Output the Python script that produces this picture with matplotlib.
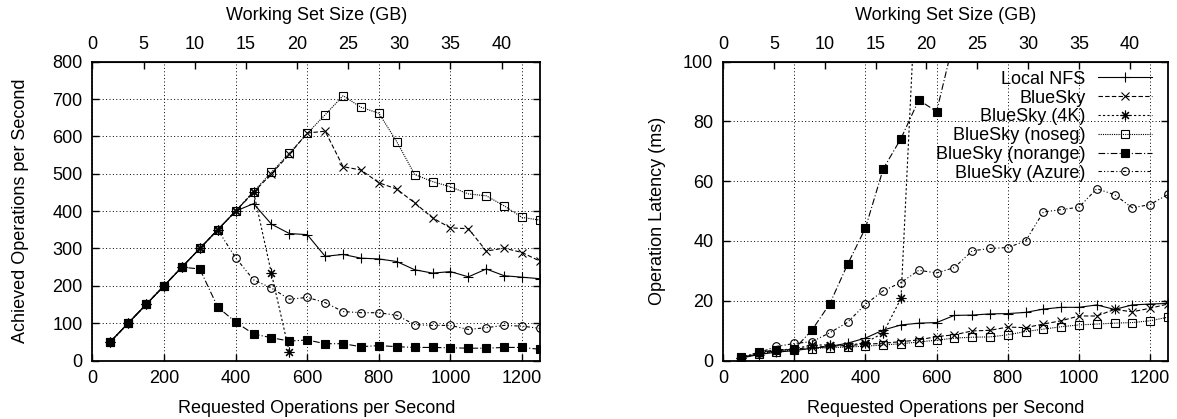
import matplotlib
matplotlib.use('Agg')
import matplotlib.pyplot as plt
import numpy as np

plt.rcParams['font.family'] = ['Liberation Sans', 'DejaVu Sans']

# requested operations per second
req = [50, 100, 150, 200, 250, 300, 350, 400, 450, 500, 550, 600, 650,
       700, 750, 800, 850, 900, 950, 1000, 1050, 1100, 1150, 1200, 1250]
req_4k = [50, 100, 150, 200, 250, 300, 350, 400, 450, 500, 550]
req_norange_lat = [50, 100, 150, 200, 250, 300, 350, 400, 450, 500, 550, 600, 650]

# achieved operations per second (left)
ach_nfs = [50, 100, 150, 200, 250, 300, 350, 400, 420, 365, 340, 337, 279,
           284, 274, 272, 265, 243, 234, 238, 224, 245, 227, 223, 219]
ach_bluesky = [50, 100, 150, 200, 250, 300, 350, 400, 450, 500, 552, 609, 614,
               519, 510, 476, 459, 422, 382, 355, 353, 293, 301, 289, 266]
ach_4k = [50, 100, 150, 200, 250, 300, 350, 400, 452, 233, 22]
ach_noseg = [50, 100, 150, 200, 250, 300, 350, 400, 452, 504, 555, 608, 658,
             709, 678, 662, 586, 498, 479, 465, 446, 441, 414, 383, 376]
ach_norange = [50, 100, 150, 200, 250, 245, 143, 103, 71, 61, 52, 55, 45,
               45, 37, 40, 37, 35, 35, 34, 33, 33, 35, 35, 30]
ach_azure = [50, 100, 150, 200, 250, 300, 350, 275, 216, 194, 164, 169, 155,
             131, 128, 128, 121, 96, 94, 94, 83, 88, 94, 92, 86]

# operation latency in ms (right)
lat_nfs = [0.8, 2.0, 2.8, 3.3, 4.1, 4.7, 5.8, 7.5, 10.2, 11.9, 12.5, 12.7, 15.1,
           15.2, 15.6, 15.7, 16.1, 17.2, 17.8, 17.8, 18.6, 17.1, 18.6, 18.9, 19.1]
lat_bluesky = [0.9, 2.4, 3.3, 3.8, 4.4, 4.8, 5.0, 5.4, 5.8, 6.3, 6.9, 8.0, 8.6,
               9.9, 10.1, 11.2, 11.0, 12.2, 13.3, 14.9, 14.9, 17.1, 16.3, 17.5, 18.9]
lat_4k = [0.9, 2.4, 3.3, 3.9, 5.2, 5.2, 5.0, 6.0, 9.2, 20.8, 145]
lat_noseg = [0.8, 2.2, 3.0, 3.6, 4.0, 4.3, 4.5, 4.8, 5.2, 5.6, 6.2, 6.8, 7.5,
             7.8, 7.9, 8.6, 9.7, 10.5, 11.3, 11.9, 12.2, 12.5, 12.7, 13.3, 14.5]
lat_norange = [1.1, 2.7, 3.6, 3.8, 10.2, 19.0, 32.2, 44.3, 64.1, 74.3, 87.2, 83.3, 108]
lat_azure = [1.0, 2.6, 4.7, 5.7, 6.3, 9.3, 12.8, 18.8, 23.3, 26.1, 30.2, 29.3, 31.1,
             36.7, 37.5, 37.8, 40.0, 49.7, 50.5, 51.3, 57.5, 55.5, 51.1, 52.2, 55.6]

labels = ['Local NFS', 'BlueSky', 'BlueSky (4K)', 'BlueSky (noseg)',
          'BlueSky (norange)', 'BlueSky (Azure)']

gb_per_op = 0.035
fs = 13

styles = [
    dict(linestyle='-', marker='+', ms=7, mfc='none'),
    dict(linestyle=(0, (4, 2)), marker='x', ms=6, mfc='none'),
    dict(linestyle=(0, (2, 2)), marker=(8, 2, 0), ms=7, mfc='none'),
    dict(linestyle=(0, (1, 1)), marker='s', ms=5.5, mfc='none'),
    dict(linestyle=(0, (6, 2, 1, 2)), marker='s', ms=5.5, mfc='black'),
    dict(linestyle=(0, (3, 2, 1, 2, 1, 2)), marker='o', ms=5.5, mfc='none'),
]

fig = plt.figure(figsize=(11.77, 4.19), dpi=100)
ax1 = fig.add_axes([0.0785, 0.1396, 0.3803, 0.7131])
ax2 = fig.add_axes([0.6143, 0.1396, 0.3780, 0.7131])

left_data = [(req, ach_nfs), (req, ach_bluesky), (req_4k, ach_4k),
             (req, ach_noseg), (req, ach_norange), (req, ach_azure)]
right_data = [(req, lat_nfs), (req, lat_bluesky), (req_4k, lat_4k),
              (req, lat_noseg), (req_norange_lat, lat_norange), (req, lat_azure)]

for i in range(6):
    ax1.plot(left_data[i][0], left_data[i][1], color='black', lw=0.8,
             mec='black', mew=0.8, label=labels[i], **styles[i])
    ax2.plot(right_data[i][0], right_data[i][1], color='black', lw=0.8,
             mec='black', mew=0.8, label=labels[i], **styles[i])

for ax in [ax1, ax2]:
    ax.set_xlim(0, 1250)
    ax.set_xticks(np.arange(0, 1201, 200))
    ax.grid(True, color='black', linestyle=(0, (1, 2.5)), linewidth=0.7)
    ax.tick_params(direction='in', right=True, top=False, labelsize=fs,
                   length=5, width=1, pad=7)
    for s in ax.spines.values():
        s.set_linewidth(1.3)
    ax.set_xlabel('Requested Operations per Second', fontsize=fs, labelpad=9)
    top = ax.secondary_xaxis('top', functions=(lambda x: x * gb_per_op,
                                               lambda g: g / gb_per_op))
    top.set_xticks(np.arange(0, 41, 5))
    top.tick_params(direction='in', labelsize=fs, length=5, width=1, pad=6)
    top.set_xlabel('Working Set Size (GB)', fontsize=fs, labelpad=12)

ax1.set_ylim(0, 800)
ax1.set_yticks(np.arange(0, 801, 100))
ax1.set_ylabel('Achieved Operations per Second', fontsize=fs, labelpad=17)

ax2.set_ylim(0, 100)
ax2.set_yticks(np.arange(0, 101, 20))
ax2.set_ylabel('Operation Latency (ms)', fontsize=fs, labelpad=12)

ax2.legend(loc='upper right', frameon=False, markerfirst=False, fontsize=fs,
           handlelength=3.0, labelspacing=0.1, borderaxespad=0.3,
           handletextpad=0.7, borderpad=0.2, bbox_to_anchor=(0.985, 1.0))

plt.savefig('out.png', dpi=100)
